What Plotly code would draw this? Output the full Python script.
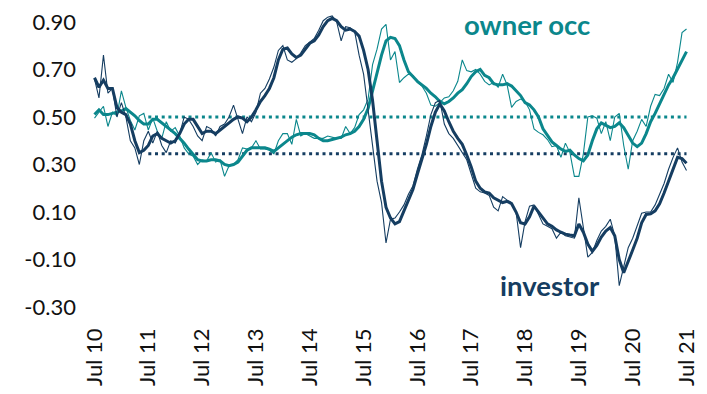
import plotly.graph_objects as go

# Monthly series, Jul 2010 .. Jul 2021 (133 months)
months = list(range(133))
tick_pos = [0, 12, 24, 36, 48, 60, 72, 84, 96, 108, 120, 132]
tick_labels = ["Jul 10", "Jul 11", "Jul 12", "Jul 13", "Jul 14", "Jul 15",
               "Jul 16", "Jul 17", "Jul 18", "Jul 19", "Jul 20", "Jul 21"]
y_ticks = [-0.3, -0.1, 0.1, 0.3, 0.5, 0.7, 0.9]
y_tick_labels = ["-0.30", "-0.10", "0.10", "0.30", "0.50", "0.70", "0.90"]

investor_monthly = [
    .66, .58, .76, .60, .62, .50, .56, .50, .40, .37, .30, .40,
    .44, .39, .44, .38, .35, .40, .39, .43, .50, .49, .46, .42,
    .40, .46, .45, .42, .46, .47, .50, .55, .49, .43, .50, .48,
    .52, .60, .62, .66, .71, .78, .80, .74, .73, .745, .77, .80,
    .815, .83, .865, .905, .92, .925, .90, .82, .88, .875, .86, .76,
    .68, .53, .36, .23, .14, -.03, .07, .075, .10, .13, .175, .21,
    .28, .34, .42, .51, .56, .57, .47, .43, .41, .38, .355, .32,
    .26, .20, .185, .18, .17, .12, .105, .165, .15, .14, .10, -.05,
    .06, .125, .13, .09, .05, .04, .03, -.01, .015, .00, -.005, -.01,
    .16, .03, -.09, -.07, -.02, .02, .04, .07, .00, -.21, -.13, -.05,
    -.01, .04, .095, .10, .10, .13, .175, .22, .28, .33, .37, .31,
    .275,
]

investor_avg = [
    .665, .625, .655, .62, .62, .54, .52, .51, .47, .40, .35, .36,
    .38, .42, .43, .41, .40, .39, .40, .43, .47, .49, .49, .46,
    .43, .44, .44, .43, .445, .46, .475, .49, .50, .495, .48, .50,
    .53, .565, .59, .62, .665, .74, .785, .79, .765, .75, .76, .785,
    .81, .82, .845, .88, .905, .915, .905, .88, .865, .87, .86, .84,
    .78, .70, .57, .40, .23, .12, .075, .05, .06, .105, .15, .195,
    .26, .32, .385, .46, .52, .555, .525, .48, .44, .41, .385, .34,
    .29, .23, .20, .185, .18, .16, .15, .14, .145, .135, .10, .055,
    .05, .08, .125, .10, .075, .05, .04, .025, .015, .007, .003, .0,
    .05, .015, -.035, -.065, -.04, -.005, .02, .035, .0, -.10, -.155, -.11,
    -.06, -.01, .055, .09, .093, .105, .135, .18, .23, .28, .33, .325,
    .305,
]

owner_monthly = [
    .495, .52, .545, .46, .52, .505, .61, .54, .485, .445, .505, .515,
    .445, .495, .44, .41, .48, .44, .455, .42, .37, .345, .335, .30,
    .32, .315, .35, .31, .32, .25, .295, .30, .32, .37, .365, .37,
    .40, .365, .365, .36, .345, .40, .43, .43, .385, .49, .42, .43,
    .42, .41, .41, .41, .42, .415, .41, .41, .46, .43, .455, .51,
    .53, .575, .72, .785, .87, .89, .74, .775, .645, .665, .68, .675,
    .645, .63, .60, .55, .545, .56, .58, .585, .61, .65, .74, .695,
    .69, .70, .68, .65, .635, .645, .625, .68, .635, .54, .565, .575,
    .565, .53, .45, .435, .425, .405, .375, .38, .33, .39, .35, .25,
    .25, .345, .50, .505, .495, .43, .48, .40, .50, .515, .38, .28,
    .40, .44, .49, .46, .545, .595, .59, .62, .68, .645, .73, .855,
    .87,
]

owner_avg = [
    .51, .53, .51, .51, .515, .52, .525, .535, .52, .505, .485, .47,
    .47, .49, .49, .475, .46, .445, .43, .41, .39, .365, .34, .32,
    .315, .315, .32, .32, .315, .30, .295, .30, .31, .335, .36, .37,
    .37, .37, .37, .365, .355, .37, .385, .40, .415, .425, .43, .43,
    .43, .425, .41, .40, .40, .405, .41, .415, .425, .43, .44, .46,
    .49, .535, .61, .69, .76, .82, .835, .83, .80, .74, .69, .67,
    .65, .635, .62, .60, .585, .565, .555, .565, .58, .60, .615, .64,
    .67, .69, .70, .675, .665, .64, .635, .635, .64, .63, .61, .59,
    .56, .55, .53, .50, .45, .42, .395, .38, .365, .355, .36, .34,
    .325, .315, .34, .40, .45, .475, .465, .455, .46, .475, .455, .42,
    .39, .375, .39, .43, .48, .515, .555, .60, .635, .665, .70, .74,
    .775,
]

# Long-run averages, Jul 2011 .. Jul 2021
avg_span = [12, 132]
owner_long_avg = 0.50
investor_long_avg = 0.345

TEAL = "#0B878C"
NAVY = "#153D61"
FONT = "Lato, Calibri, 'Open Sans', sans-serif"

fig = go.Figure()

fig.add_trace(go.Scatter(x=avg_span, y=[owner_long_avg] * 2, mode="lines",
                         line=dict(color=TEAL, width=3, dash="3px,3.7px"),
                         hoverinfo="skip"))
fig.add_trace(go.Scatter(x=avg_span, y=[investor_long_avg] * 2, mode="lines",
                         line=dict(color=NAVY, width=3, dash="3px,3.7px"),
                         hoverinfo="skip"))

fig.add_trace(go.Scatter(x=months, y=owner_monthly, mode="lines",
                         line=dict(color=TEAL, width=1.1)))
fig.add_trace(go.Scatter(x=months, y=owner_avg, mode="lines",
                         line=dict(color=TEAL, width=3)))
fig.add_trace(go.Scatter(x=months, y=investor_monthly, mode="lines",
                         line=dict(color=NAVY, width=1.1)))
fig.add_trace(go.Scatter(x=months, y=investor_avg, mode="lines",
                         line=dict(color=NAVY, width=3)))

fig.add_annotation(x=96.5, y=0.89, xref="x", yref="y", text="<b>owner occ</b>",
                   showarrow=False, font=dict(family=FONT, size=27.5, color=TEAL))
fig.add_annotation(x=101.5, y=-0.207, xref="x", yref="y", text="<b>investor</b>",
                   showarrow=False, font=dict(family=FONT, size=27.5, color=NAVY))

fig.update_layout(
    width=707, height=394,
    margin=dict(l=90, r=8, t=9, b=68),
    paper_bgcolor="white", plot_bgcolor="white",
    showlegend=False,
    font=dict(family=FONT, size=22, color="#111111"),
    xaxis=dict(range=[-1, 133], tickmode="array", tickvals=tick_pos,
               ticktext=tick_labels, tickangle=-90, showgrid=False,
               zeroline=False, showline=False, ticks="",
               ticklabelstandoff=4),
    yaxis=dict(range=[-0.35, 0.95], tickmode="array",
               tickvals=y_ticks, ticktext=y_tick_labels,
               showgrid=False, zeroline=False,
               showline=False, ticks="", ticklabelstandoff=13),
)

fig.write_html("out.html")
